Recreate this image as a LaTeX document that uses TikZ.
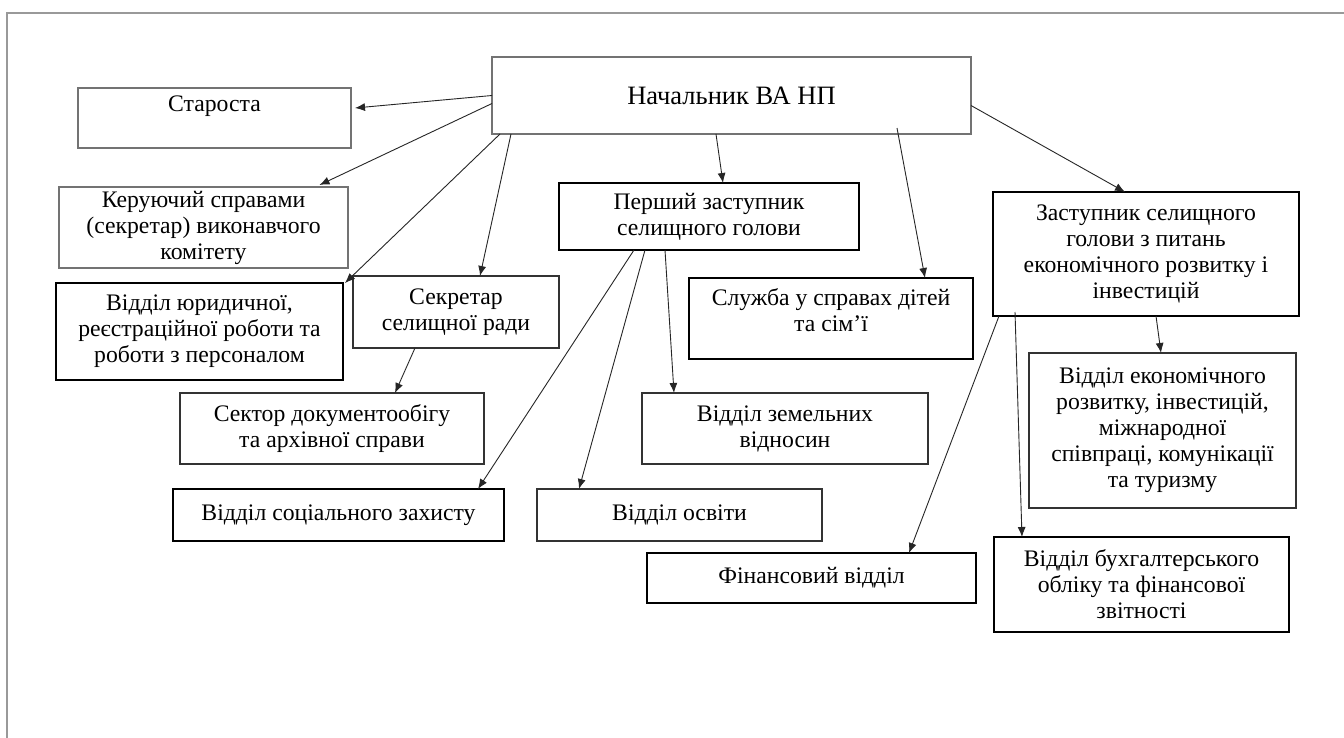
\documentclass[tikz,border=0pt]{standalone}
\usepackage{fontspec}
\setmainfont{Liberation Serif}
\usetikzlibrary{arrows.meta}
\begin{document}
\begin{tikzpicture}[x=1pt,y=-1pt,
  every node/.style={font=\fontsize{23.7}{26}\selectfont, align=center, inner sep=0pt, outer sep=0pt},
  lightbox/.style={draw=black!55, line width=1.2pt, rectangle},
  midbox/.style={draw=black!80, line width=1.6pt, rectangle},
  thickbox/.style={draw=black, line width=2.1pt, rectangle},
  conn/.style={draw=black!85, line width=0.9pt, -{Latex[length=10pt,width=8pt]}}]
\useasboundingbox (0,0) rectangle (1344,738);
\fill[white] (0,0) rectangle (1344,738);
\draw[black!40, line width=1.2pt] (7,738) -- (7,13) -- (1344,13);

\node[lightbox, minimum width=479pt, minimum height=77pt, font=\fontsize{26.5}{30}\selectfont] (nach) at (731.5,95.5) {Начальник ВА НП};
\node[lightbox, minimum width=273pt, minimum height=60pt] (star) at (214.5,118) {Староста\\[-6pt]\strut};
\node[lightbox, minimum width=289pt, minimum height=81pt] (ker) at (203.5,227.5) {Керуючий справами\\(секретар) виконавчого\\комітету};
\node[thickbox, minimum width=287pt, minimum height=97pt] (yur) at (199.5,331.5) {Відділ юридичної,\\реєстраційної роботи та\\роботи з персоналом};
\node[midbox, minimum width=206pt, minimum height=72pt] (sekr) at (456,312) {Секретар\\селищної ради};
\node[midbox, minimum width=304pt, minimum height=71pt] (sektor) at (332,428.5) {Сектор документообігу\\та архівної справи};
\node[thickbox, minimum width=331pt, minimum height=52pt] (soc) at (338.5,515) {Відділ соціального захисту};
\node[midbox, minimum width=285pt, minimum height=52pt] (osv) at (679.5,515) {Відділ освіти};
\node[thickbox, minimum width=300pt, minimum height=67pt] (persh) at (709,216.5) {Перший заступник\\селищного голови};
\node[thickbox, minimum width=284pt, minimum height=81pt] (sluzh) at (831,318.5) {Служба у справах дітей\\та сім'ї\\[-16pt]\strut};
\node[midbox, minimum width=286pt, minimum height=71pt] (zem) at (785,428.5) {Відділ земельних\\відносин};
\node[thickbox, minimum width=329pt, minimum height=50pt] (fin) at (811.5,578) {Фінансовий відділ};
\node[thickbox, minimum width=306pt, minimum height=124pt] (zast) at (1146,254) {Заступник селищного\\голови з питань\\економічного розвитку і\\інвестицій};
\node[midbox, minimum width=267pt, minimum height=155pt] (ekon) at (1162.5,430.5) {Відділ економічного\\розвитку, інвестицій,\\міжнародної\\співпраці, комунікації\\та туризму};
\node[thickbox, minimum width=295pt, minimum height=95pt] (buh) at (1141.5,584.5) {Відділ бухгалтерського\\обліку та фінансової\\звітності};

\draw[conn] (nach.west) -- ([xshift=4pt,yshift=10pt]star.east);
\draw[conn] ([yshift=-8pt]nach.west) -- ([xshift=116pt,yshift=2pt]ker.north);
\draw[conn] ([xshift=8pt]nach.south west) -- ([xshift=2pt]yur.north east);
\draw[conn] ([xshift=19pt]nach.south west) -- ([xshift=24pt]sekr.north);
\draw[conn] ([xshift=-15.5pt]nach.south) -- ([xshift=14pt]persh.north);
\draw[conn] ([xshift=-74pt,yshift=6pt]nach.south east) -- ([xshift=-48pt]sluzh.north east);
\draw[conn] ([yshift=-10pt]nach.east) -- ([xshift=-21pt]zast.north);
\draw[conn] ([xshift=-41pt]sekr.south) -- ([xshift=63pt]sektor.north);
\draw[conn] ([xshift=-75pt]persh.south) -- ([xshift=-26pt]soc.north east);
\draw[conn] ([xshift=-64pt]persh.south) -- ([xshift=42pt]osv.north west);
\draw[conn] ([xshift=-44pt]persh.south) -- ([xshift=32pt]zem.north west);
\draw[conn] ([xshift=6pt]zast.south west) -- ([xshift=-67pt]fin.north east);
\draw[conn] ([xshift=22pt,yshift=4pt]zast.south west) -- ([xshift=28pt]buh.north west);
\draw[conn] ([xshift=10pt]zast.south) -- ([xshift=-1.5pt]ekon.north);
\end{tikzpicture}
\end{document}
